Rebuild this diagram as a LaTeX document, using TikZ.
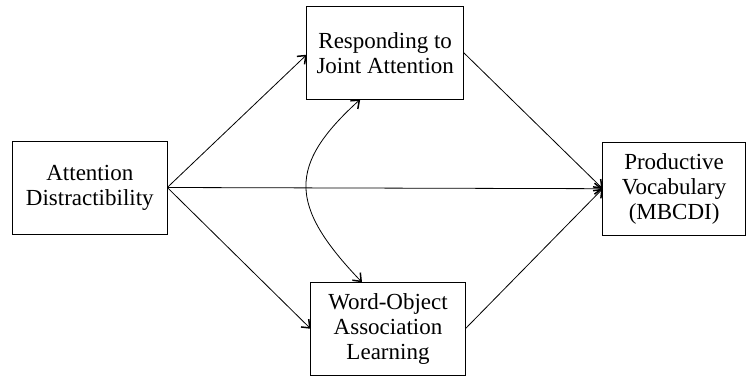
\documentclass[tikz,border=0pt]{standalone}
\usepackage{fontspec}
\setmainfont{Liberation Serif}
\usetikzlibrary{arrows.meta}
\begin{document}
\begin{tikzpicture}[x=1pt,y=-1pt,
  box/.style={draw, line width=1pt, rectangle, inner sep=0pt, outer sep=0pt,
    align=center, font=\fontsize{23}{25}\selectfont},
  tip/.tip={Straight Barb[length=7pt,width=11pt,line width=1.5pt]},
  link/.style={line width=0.8pt, -tip}
]
\useasboundingbox (0,0) rectangle (746,377);
\node[box, minimum width=155pt, minimum height=93pt] (AD) at (89.8,187.5) {Attention\\Distractibility};
\node[box, minimum width=157pt, minimum height=93.3pt] (RJA) at (385.2,52.7) {Responding to\\Joint Attention};
\node[box, minimum width=154.6pt, minimum height=93pt] (WOAL) at (388,328.8) {Word-Object\\Association\\Learning};
\node[box, minimum width=142.8pt, minimum height=92.7pt] (PV) at (674.1,188.7) {Productive\\Vocabulary\\(MBCDI)};
\draw[link] (AD.east) -- ([yshift=-2pt]RJA.west);
\draw[link] (AD.east) -- (WOAL.west);
\draw[link] (AD.east) -- (PV.west);
\draw[link] (RJA.east) -- (PV.west);
\draw[link] (WOAL.east) -- (PV.west);
\draw[link, tip-tip]
  ([xshift=-25pt]RJA.south) .. controls (288,165) and (288,205) .. ([xshift=-26pt]WOAL.north);
\end{tikzpicture}
\end{document}
